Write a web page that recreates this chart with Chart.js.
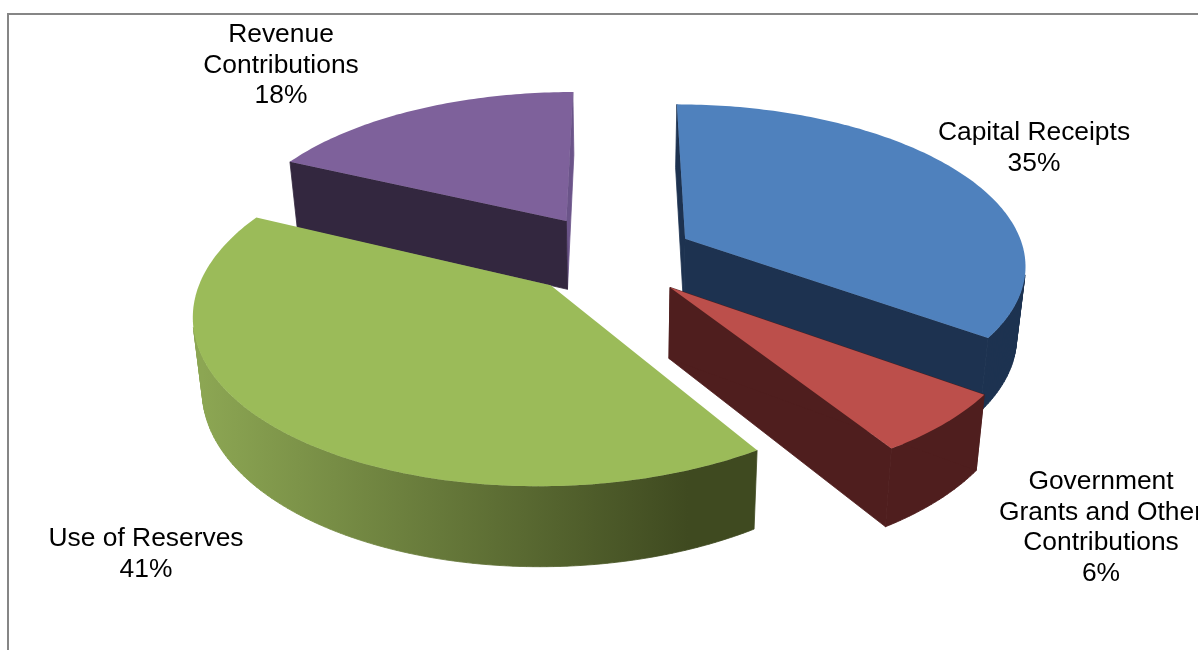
<!DOCTYPE html>
<html>
<head>
<meta charset="utf-8">
<title>Sources of funds</title>
<script src="https://cdn.jsdelivr.net/npm/chart.js@4"></script>
<style>
  html, body { margin: 0; padding: 0; background: #ffffff; overflow: hidden; }
  canvas { display: block; }
</style>
</head>
<body>
<canvas id="chart" width="1198" height="650"></canvas>
<script>
// Chart data
const categories = [
  ['Capital Receipts'],
  ['Government', 'Grants and Other', 'Contributions'],
  ['Use of Reserves'],
  ['Revenue', 'Contributions']
];
const shares = [35, 6, 41, 18];
const explode = [73, 70, 100, 100];

// Slice colours: top face, outer wall, cut walls
const topColors = ['#4f81bd', '#bc4f4b', '#9bbb59', '#7e619b'];
const wallColors = ['#1d3250', '#4f1e1e', ['#8ca653', '#3f4a20'], '#33273f'];
const endWallColors = ['#1d3250', '#4f1e1e', null, '#6b5489'];
const startWallColors = ['#1d3250', '#4f1e1e', null, '#33273f'];

// Back-to-front painting order of the slices
const paintOrder = [3, 0, 1, 2];

// Screen-space adjustment of each exploded slice
const sliceShift = [[1, -1], [1, 8], [-1, -6], [-2, 4]];

// Label centres and first-line baselines
const labelAnchors = [[1034, 140], [1101, 489], [146, 546], [281, 42]];

// Projection of the tilted disc
const view = { radius: 340, tilt: 0.467, perspective: 0.15, depth: 70, shrink: 0.022 };

function project(cx, cy, px, py, lower) {
  const w = 1 / (1 - view.perspective * py / view.radius);
  const f = lower ? 1 - view.shrink : 1;
  return [
    cx + px * w * f,
    cy + py * w * f * view.tilt + (lower ? view.depth * w : 0)
  ];
}

function sliceGeometry(el, offset) {
  const mid = (el.startAngle + el.endAngle) / 2;
  const ox = Math.cos(mid) * offset;
  const oy = Math.sin(mid) * offset;
  const steps = Math.max(8, Math.ceil((el.endAngle - el.startAngle) * 60));
  const rim = [];
  for (let i = 0; i <= steps; i++) {
    const a = el.startAngle + (el.endAngle - el.startAngle) * i / steps;
    rim.push([ox + view.radius * Math.cos(a), oy + view.radius * Math.sin(a)]);
  }
  return { apex: [ox, oy], rim };
}

function tracePolygon(ctx, pts) {
  pts.forEach((p, i) => (i ? ctx.lineTo(p[0], p[1]) : ctx.moveTo(p[0], p[1])));
  ctx.closePath();
}

function signedArea(pts) {
  let sum = 0;
  pts.forEach((p, i) => {
    const q = pts[(i + 1) % pts.length];
    sum += p[0] * q[1] - q[0] * p[1];
  });
  return sum;
}

function fillPolygon(ctx, pts, fill, seal) {
  ctx.beginPath();
  tracePolygon(ctx, pts);
  ctx.fillStyle = fill;
  ctx.fill();
  if (seal) {
    // Hairline of the same paint closes the seam against the next wall
    ctx.strokeStyle = fill;
    ctx.lineWidth = 0.8;
    ctx.stroke();
  }
}

const discPlugin = {
  id: 'disc',
  beforeDraw(chart) {
    // Chart frame: top and left rules
    const ctx = chart.ctx;
    ctx.save();
    ctx.fillStyle = '#868686';
    ctx.fillRect(7, 13, 1191, 2);
    ctx.fillRect(7, 13, 2, 637);
    ctx.restore();
  },
  beforeDatasetDraw(chart, args) {
    const ctx = chart.ctx;
    const meta = chart.getDatasetMeta(args.index);
    ctx.save();
    paintOrder.forEach(i => {
      const el = meta.data[i];
      const cx = el.x + sliceShift[i][0], cy = el.y + sliceShift[i][1];
      const g = sliceGeometry(el, el.options.offset);
      const top = p => project(cx, cy, p[0], p[1], false);
      const low = p => project(cx, cy, p[0], p[1], true);
      const first = g.rim[0], last = g.rim[g.rim.length - 1];

      const upper = g.rim.map(top);
      const lower = g.rim.map(low);
      let wallFill = wallColors[i];
      if (Array.isArray(wallFill)) {
        const xs = lower.map(p => p[0]);
        const x0 = Math.min(...xs), x1 = Math.max(...xs);
        const grad = ctx.createLinearGradient(x0, 0, x1, 0);
        grad.addColorStop(0, wallFill[0]);
        grad.addColorStop(0.88, wallFill[1]);
        grad.addColorStop(1, wallFill[1]);
        wallFill = grad;
      }
      // Outer wall: only the viewer-facing facets, traced as one path
      ctx.beginPath();
      for (let k = 0; k < upper.length - 1; k++) {
        const facet = [upper[k], upper[k + 1], lower[k + 1], lower[k]];
        if (signedArea(facet) < 0) tracePolygon(ctx, facet);
      }
      ctx.fillStyle = wallFill;
      ctx.fill();
      ctx.strokeStyle = wallFill;
      ctx.lineWidth = 0.8;
      ctx.stroke();

      if (endWallColors[i]) {
        fillPolygon(ctx, [top(g.apex), top(last), low(last), low(g.apex)], endWallColors[i], true);
      }
      if (startWallColors[i]) {
        fillPolygon(ctx, [top(g.apex), top(first), low(first), low(g.apex)], startWallColors[i], true);
      }
      fillPolygon(ctx, [top(g.apex)].concat(upper), topColors[i], false);
    });
    ctx.restore();
    return false;
  },
  afterDraw(chart) {
    const ctx = chart.ctx;
    const total = shares.reduce((a, b) => a + b, 0);
    ctx.save();
    ctx.fillStyle = '#000000';
    ctx.font = '26.4px "Liberation Sans", Arial, sans-serif';
    ctx.textAlign = 'center';
    ctx.textBaseline = 'alphabetic';
    categories.forEach((lines, i) => {
      const [x, y] = labelAnchors[i];
      const text = lines.concat(Math.round(shares[i] / total * 100) + '%');
      text.forEach((line, n) => ctx.fillText(line, x, y + n * 30.7));
    });
    ctx.restore();
  }
};

new Chart(document.getElementById('chart'), {
  type: 'pie',
  data: {
    labels: categories,
    datasets: [{ data: shares, offset: explode, backgroundColor: topColors, borderWidth: 0 }]
  },
  options: {
    responsive: false,
    animation: false,
    layout: { padding: { left: 42, bottom: 140 } },
    plugins: { legend: { display: false }, tooltip: { enabled: false } }
  },
  plugins: [discPlugin]
});
</script>
</body>
</html>
